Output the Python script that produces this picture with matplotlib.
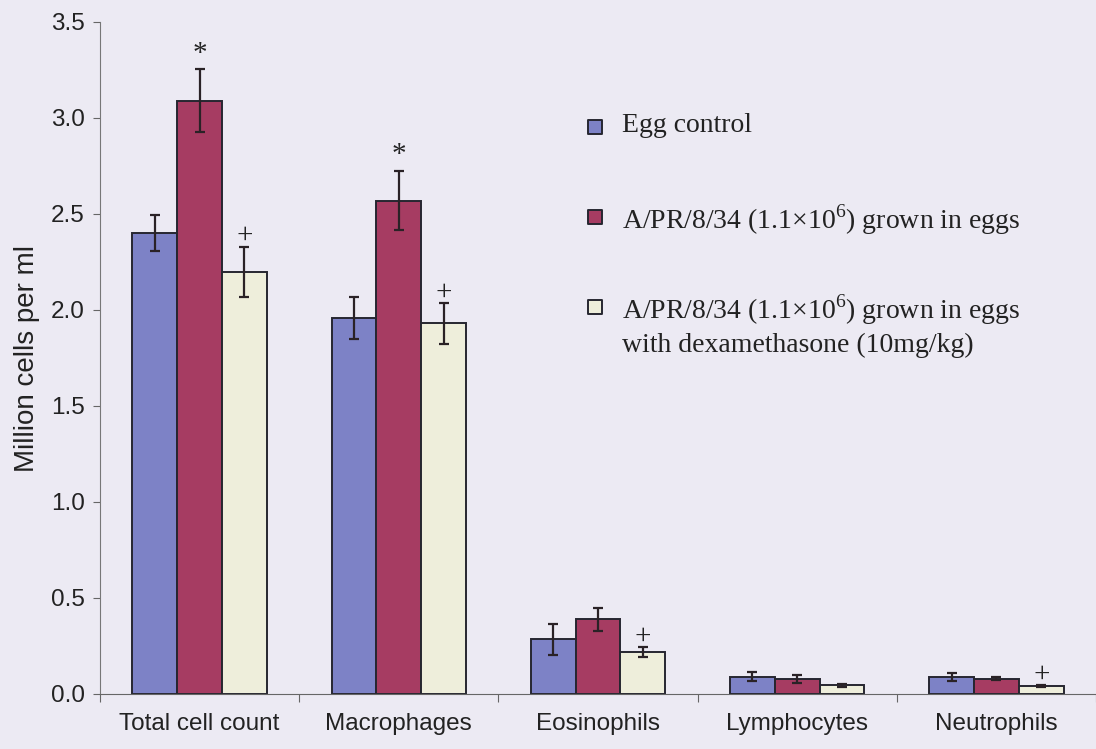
import numpy as np
import matplotlib
matplotlib.use("Agg")
import matplotlib.pyplot as plt

# cell counts in BAL fluid, million cells per ml (mean and SEM)
categories = ["Total cell count", "Macrophages", "Eosinophils", "Lymphocytes", "Neutrophils"]
series_names = ["Egg control",
                "A/PR/8/34 (1.1\u00d710$^{6}$) grown in eggs",
                "A/PR/8/34 (1.1\u00d710$^{6}$) grown in eggs\nwith dexamethasone (10mg/kg)"]

egg_control = [2.40, 1.96, 0.285, 0.090, 0.088]
egg_control_err = [0.095, 0.11, 0.08, 0.022, 0.020]

apr8 = [3.09, 2.57, 0.39, 0.078, 0.080]
apr8_err = [0.165, 0.155, 0.06, 0.020, 0.006]

apr8_dex = [2.20, 1.93, 0.218, 0.045, 0.040]
apr8_dex_err = [0.13, 0.105, 0.025, 0.008, 0.006]

# significance marks: (category index, series index, symbol)
marks = [(0, 1, "*"), (0, 2, "+"), (1, 1, "*"), (1, 2, "+"), (2, 2, "+"), (4, 2, "+")]

colors = ["#7d82c6", "#a63c62", "#eeeedb"]
bg = "#eceaf3"
edge = "#262630"

plt.rcParams["font.family"] = ["Liberation Sans", "DejaVu Sans"]
plt.rcParams["mathtext.fontset"] = "custom"
plt.rcParams["mathtext.rm"] = "Liberation Serif"

fig = plt.figure(figsize=(10.96, 7.49), dpi=100, facecolor=bg)
ax = fig.add_axes([100 / 1096, 55 / 749, 996 / 1096, 672 / 749])
ax.set_facecolor(bg)

x = np.arange(len(categories))
w = 0.225
values = [egg_control, apr8, apr8_dex]
errors = [egg_control_err, apr8_err, apr8_dex_err]

for i, (vals, errs) in enumerate(zip(values, errors)):
    pos = x + (i - 1) * w
    ax.bar(pos, vals, w, color=colors[i], edgecolor=edge, linewidth=1.4, zorder=2)
    ax.errorbar(pos, vals, yerr=errs, fmt="none", ecolor="#2a2226",
                elinewidth=1.6, capsize=3.8, capthick=1.6, zorder=3)

for ci, si, sym in marks:
    top = values[si][ci] + errors[si][ci]
    off = 0.08 if sym == "*" else 0.055
    ax.text(x[ci] + (si - 1) * w, top + off, sym, ha="center", va="center",
            fontsize=21, family="Liberation Serif", color="#222222")

ax.set_xlim(-0.5, 4.48)
ax.set_ylim(0, 3.5)
ax.set_yticks(np.arange(0, 3.51, 0.5))
ax.set_yticklabels([f"{v:.1f}" for v in np.arange(0, 3.51, 0.5)], fontsize=17.5, color="#222222")
ax.set_xticks(np.arange(-0.5, 4.6, 1.0))
ax.set_xticklabels([])
ax.set_xticks(x, minor=True)
ax.set_xticklabels(categories, minor=True, fontsize=17.5, color="#222222")
ax.tick_params(axis="x", which="minor", length=0, pad=14)
ax.tick_params(axis="x", which="major", length=6, color="#666666", direction="out")
ax.tick_params(axis="y", length=5, color="#666666", direction="out", pad=6)
ax.set_ylabel("Million cells per ml", fontsize=20, color="#222222", labelpad=8)

for s in ["top", "right"]:
    ax.spines[s].set_visible(False)
ax.spines["left"].set_color("#777777")
ax.spines["bottom"].set_color("#666666")

# legend drawn by hand, square and text per entry
leg_y = [0.844, 0.710, 0.576]
for i, name in enumerate(series_names):
    ax.scatter([0.497], [leg_y[i]], marker="s", s=110, color=colors[i],
               edgecolor=edge, linewidth=1.4, transform=ax.transAxes, clip_on=False, zorder=4)
    ax.text(0.524, leg_y[i] + 0.021, name, transform=ax.transAxes, ha="left", va="top",
            fontsize=20, family="Liberation Serif", color="#222222", linespacing=1.3)

fig.savefig("out.png", dpi=100, facecolor=bg)
